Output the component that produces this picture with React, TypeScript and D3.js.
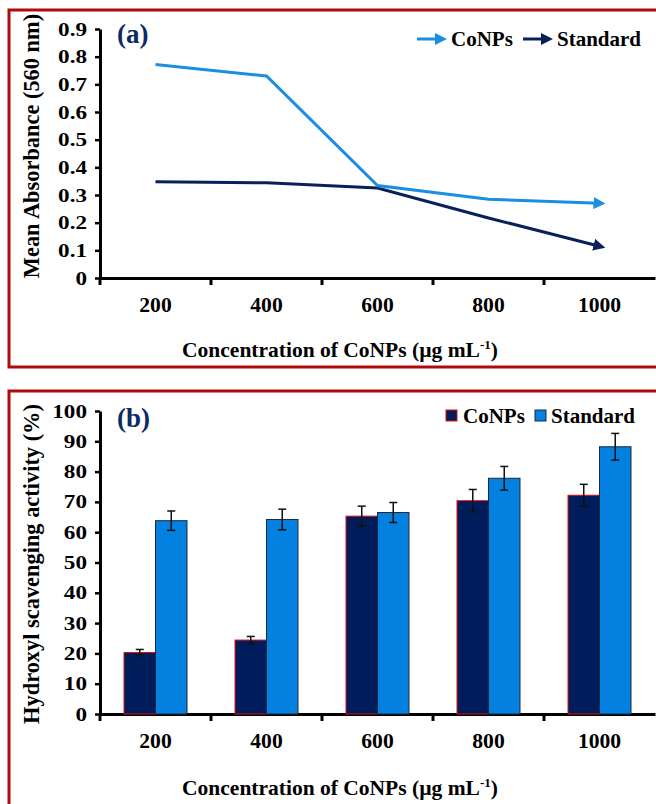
import * as d3 from "d3";
import React, { useEffect, useRef } from "react";

// concentrations (µg/mL)
const categories = ["200", "400", "600", "800", "1000"];

// panel (a) mean absorbance at 560 nm
const absorbanceCoNPs = [0.772, 0.73, 0.334, 0.285, 0.27];
const absorbanceStandard = [0.348, 0.344, 0.325, 0.217, 0.115];
const absTicks = [0, 0.1, 0.2, 0.3, 0.4, 0.5, 0.6, 0.7, 0.8, 0.9];

// panel (b) hydroxyl scavenging activity (%)
const scavCoNPs = [20.3, 24.4, 65.3, 70.4, 72.2];
const scavCoNPsErr = [1.0, 1.2, 3.3, 3.7, 3.6];
const scavStandard = [63.8, 64.2, 66.5, 77.8, 88.2];
const scavStandardErr = [3.2, 3.4, 3.3, 3.9, 4.4];
const scavTicks = [0, 10, 20, 30, 40, 50, 60, 70, 80, 90, 100];

const seriesNames = ["CoNPs", "Standard"];

const W = 656;
const H = 804;
const FONT = "'Liberation Serif', 'Times New Roman', serif";
const LIGHT = "#1a8ee0";
const NAVY = "#0b1f5c";
const BAR_NAVY = "#001c5a";
const BAR_BLUE = "#0481e0";
const BORDER = "#b00a0a";

function App() {
  const ref = useRef<HTMLDivElement>(null);

  useEffect(() => {
    d3.select(ref.current).select("svg").remove();

    const svg = d3
      .select(ref.current)
      .append("svg")
      .attr("width", W)
      .attr("height", H)
      .attr("viewBox", [0, 0, W, H])
      .style("position", "absolute")
      .style("left", "0px")
      .style("top", "0px")
      .style("font-family", FONT)
      .style("font-weight", "bold");

    svg.append("rect").attr("width", W).attr("height", H).attr("fill", "#fff");

    const defs = svg.append("defs");
    [
      ["arrLight", LIGHT],
      ["arrNavy", NAVY],
    ].forEach(([id, c]) => {
      defs
        .append("marker")
        .attr("id", id)
        .attr("viewBox", "0 0 10 10")
        .attr("refX", 5)
        .attr("refY", 5)
        .attr("markerWidth", 4)
        .attr("markerHeight", 4)
        .attr("orient", "auto")
        .attr("markerUnits", "strokeWidth")
        .append("path")
        .attr("d", "M0,0 L10,5 L0,10 Z")
        .attr("fill", c);
    });

    // panel borders
    svg
      .append("rect")
      .attr("x", 9)
      .attr("y", 10)
      .attr("width", 650)
      .attr("height", 357)
      .attr("fill", "none")
      .attr("stroke", BORDER)
      .attr("stroke-width", 3);
    svg
      .append("rect")
      .attr("x", 9)
      .attr("y", 391)
      .attr("width", 650)
      .attr("height", 430)
      .attr("fill", "none")
      .attr("stroke", BORDER)
      .attr("stroke-width", 3);

    const x = d3.scaleBand().domain(categories).range([100, 655]);

    const drawAxes = (
      g: d3.Selection<SVGGElement, unknown, null, undefined>,
      y: d3.ScaleLinear<number, number>,
      ticks: number[],
      fmt: (v: number) => string,
      y0: number
    ) => {
      const ya = g
        .append("g")
        .attr("transform", "translate(100,0)")
        .call(d3.axisLeft(y).tickValues(ticks).tickFormat((d) => fmt(d as number)).tickSize(5).tickPadding(9).tickSizeOuter(0));
      ya.selectAll("line").attr("stroke", "#000").attr("stroke-width", 2.5);
      ya.select(".domain").attr("stroke", "#000").attr("stroke-width", 3);
      // tick labels in the original are a bit stretched horizontally
      ya.selectAll("text")
        .attr("font-size", 19)
        .attr("font-family", FONT)
        .attr("font-weight", "bold")
        .attr("fill", "#000")
        .attr("x", -13 / 1.22)
        .attr("transform", "scale(1.22,1)");

      const xa = g
        .append("g")
        .attr("transform", `translate(0,${y0})`)
        .call(d3.axisBottom(x).tickSize(0).tickSizeOuter(0).tickPadding(0));
      xa.select(".domain").attr("stroke", "#000").attr("stroke-width", 3);
      xa.selectAll("text")
        .attr("font-size", 20)
        .attr("font-family", FONT)
        .attr("font-weight", "bold")
        .attr("fill", "#000")
        .attr("dy", 0)
        .attr("y", 34)
        .attr("transform", "scale(1.08,1)");

      // tick marks on the band edges
      g.append("g")
        .selectAll("line")
        .data(categories)
        .join("line")
        .attr("x1", (d) => x(d)!)
        .attr("x2", (d) => x(d)!)
        .attr("y1", y0)
        .attr("y2", y0 + 7)
        .attr("stroke", "#000")
        .attr("stroke-width", 3);
    };

    const xTitle = (g: d3.Selection<SVGGElement, unknown, null, undefined>, yb: number) => {
      const t = g
        .append("text")
        .attr("x", 340)
        .attr("y", yb)
        .attr("text-anchor", "middle")
        .attr("font-size", 21.5)
        .attr("fill", "#000");
      t.append("tspan").text("Concentration of CoNPs (µg mL");
      t.append("tspan").attr("font-size", 13).attr("dy", -8).text("-1");
      t.append("tspan").attr("dy", 8).text(")");
    };

    // ---------- panel (a) ----------
    const ga = svg.append("g");
    const ya = d3.scaleLinear().domain([0, 0.9]).range([278, 29]);
    drawAxes(ga, ya, absTicks, (v) => (v === 0 ? "0" : v.toFixed(1)), 278);

    const line = d3
      .line<number>()
      .x((_, i) => x(categories[i])! + x.bandwidth() / 2)
      .y((d) => ya(d));

    [
      [absorbanceStandard, NAVY, "arrNavy"],
      [absorbanceCoNPs, LIGHT, "arrLight"],
    ].forEach(([vals, c, m]) => {
      ga.append("path")
        .datum(vals as number[])
        .attr("d", line)
        .attr("fill", "none")
        .attr("stroke", c as string)
        .attr("stroke-width", 3)
        .attr("marker-end", `url(#${m})`);
    });

    ga.append("text")
      .attr("x", 117)
      .attr("y", 43)
      .attr("font-size", 27)
      .attr("fill", "#0b2a66")
      .text("(a)");

    ga.append("text")
      .attr("transform", "translate(39,146) rotate(-90)")
      .attr("text-anchor", "middle")
      .attr("font-size", 22.4)
      .attr("fill", "#000")
      .text("Mean Absorbance (560 nm)");

    // legend (a)
    const legA = [
      { name: seriesNames[0], c: LIGHT, m: "arrLight", x0: 417, tx: 451 },
      { name: seriesNames[1], c: NAVY, m: "arrNavy", x0: 523, tx: 557 },
    ];
    legA.forEach((l) => {
      ga.append("line")
        .attr("x1", l.x0)
        .attr("x2", l.x0 + 24)
        .attr("y1", 39)
        .attr("y2", 39)
        .attr("stroke", l.c)
        .attr("stroke-width", 3)
        .attr("marker-end", `url(#${l.m})`);
      ga.append("text").attr("x", l.tx).attr("y", 46).attr("font-size", 21).attr("fill", "#000").text(l.name);
    });

    xTitle(ga, 357);

    // ---------- panel (b) ----------
    const gb = svg.append("g");
    const yb = d3.scaleLinear().domain([0, 100]).range([714, 411]);
    drawAxes(gb, yb, scavTicks, (v) => String(v), 714);

    const inner = d3.scaleBand().domain(seriesNames).range([0, 63]);
    const off = (x.bandwidth() - 63) / 2;
    const series = [
      { name: seriesNames[0], vals: scavCoNPs, err: scavCoNPsErr, fill: BAR_NAVY, stroke: "#e01010" },
      { name: seriesNames[1], vals: scavStandard, err: scavStandardErr, fill: BAR_BLUE, stroke: "#1c2a3a" },
    ];
    series.forEach((s) => {
      const bx = (i: number) => x(categories[i])! + off + inner(s.name)!;
      gb.append("g")
        .selectAll("rect")
        .data(s.vals)
        .join("rect")
        .attr("x", (_, i) => bx(i))
        .attr("y", (d) => yb(d))
        .attr("width", inner.bandwidth())
        .attr("height", (d) => yb(0) - yb(d))
        .attr("fill", s.fill)
        .attr("stroke", s.stroke)
        .attr("stroke-width", 1);
      const eg = gb.append("g").attr("stroke", "#111").attr("stroke-width", 1.5);
      s.vals.forEach((v, i) => {
        const cx = bx(i) + inner.bandwidth() / 2;
        const top = yb(v + s.err[i]);
        const bot = yb(v - s.err[i]);
        eg.append("line").attr("x1", cx).attr("x2", cx).attr("y1", top).attr("y2", bot);
        eg.append("line").attr("x1", cx - 4).attr("x2", cx + 4).attr("y1", top).attr("y2", top);
        eg.append("line").attr("x1", cx - 4).attr("x2", cx + 4).attr("y1", bot).attr("y2", bot);
      });
    });

    gb.append("text")
      .attr("x", 117)
      .attr("y", 427)
      .attr("font-size", 27)
      .attr("fill", "#0b2a66")
      .text("(b)");

    gb.append("text")
      .attr("transform", "translate(39,564) rotate(-90)")
      .attr("text-anchor", "middle")
      .attr("font-size", 22.4)
      .attr("fill", "#000")
      .text("Hydroxyl scavenging activity (%)");

    const legB = [
      { s: series[0], x0: 446, tx: 463 },
      { s: series[1], x0: 535, tx: 551 },
    ];
    legB.forEach((l) => {
      gb.append("rect")
        .attr("x", l.x0)
        .attr("y", 410)
        .attr("width", 11)
        .attr("height", 11)
        .attr("fill", l.s.fill)
        .attr("stroke", l.s.stroke)
        .attr("stroke-width", 1);
      gb.append("text").attr("x", l.tx).attr("y", 423).attr("font-size", 21).attr("fill", "#000").text(l.s.name);
    });

    xTitle(gb, 795);
  }, []);

  return <div ref={ref}></div>;
}

export default App;
